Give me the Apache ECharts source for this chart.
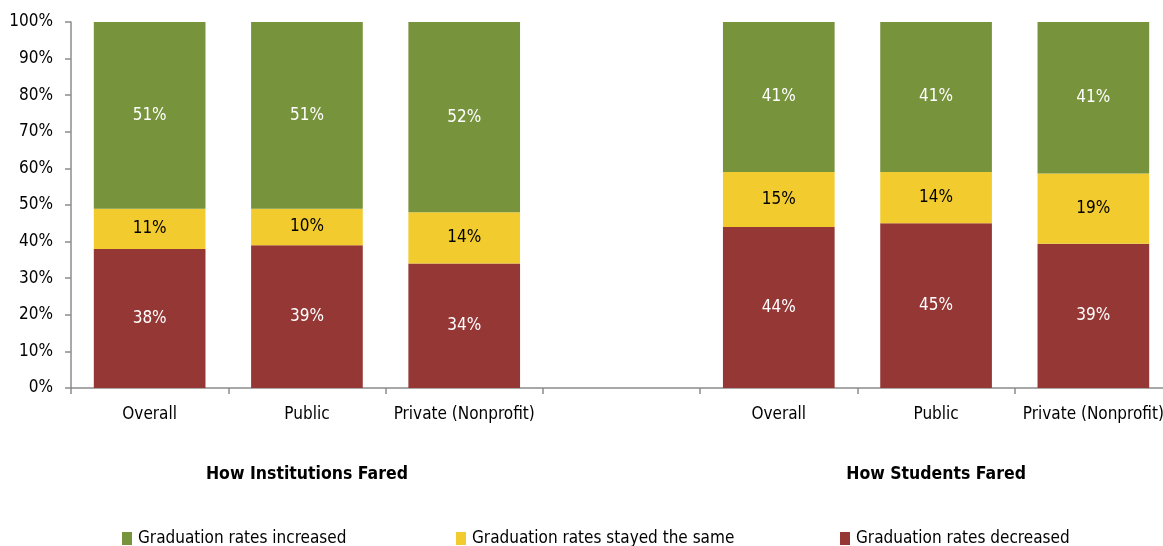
<!DOCTYPE html>
<html>
<head>
<meta charset="utf-8">
<script src="https://cdn.jsdelivr.net/npm/echarts@6/dist/echarts.min.js"></script>
<style>
  html, body { margin: 0; padding: 0; background: #fff; }
  #chart { width: 1163px; height: 546px; }
</style>
</head>
<body>
<div id="chart"></div>
<script>
// categories (empty slot in the middle separates the two groups)
const categories = ['Overall', 'Public', 'Private (Nonprofit)', '', 'Overall', 'Public', 'Private (Nonprofit)'];
const groupLabels = ['', 'How Institutions Fared', '', '', '', 'How Students Fared', ''];

// percent of each bar
const decreased = [38, 39, 34, null, 44, 45, 39.4];
const same      = [11, 10, 14, null, 15, 14, 19.2];
const increased = [51, 51, 52, null, 41, 41, 41.4];

const yTicks = [0, 10, 20, 30, 40, 50, 60, 70, 80, 90, 100];

const FONT = "'Liberation Sans Narrow', 'DejaVu Sans Condensed', 'Arial Narrow', sans-serif";
const GREEN = '#77933c';
const YELLOW = '#f2cc2f';
const RED = '#953735';
const AXIS = '#8c8c8c';

function labelCfg(color) {
    return {
        show: true,
        position: 'inside',
        color: color,
        fontFamily: FONT,
        fontSize: 17,
        formatter: p => Math.round(p.value) + '%'
    };
}

function barSeries(name, data, color, textColor) {
    return {
        name: name,
        type: 'bar',
        stack: 'total',
        data: data,
        barCategoryGap: '29%',
        itemStyle: { color: color },
        label: labelCfg(textColor),
        emphasis: { disabled: true }
    };
}

const legendItems = [
    { name: 'Graduation rates increased', left: 122 },
    { name: 'Graduation rates stayed the same', left: 456 },
    { name: 'Graduation rates decreased', left: 840 }
];

const chart = echarts.init(document.getElementById('chart'));
chart.setOption({
    animation: false,
    textStyle: { fontFamily: FONT },
    grid: { left: 71, top: 22, width: 1101, height: 366, outerBoundsMode: 'none', containLabel: false },
    legend: legendItems.map(l => ({
        data: [l.name],
        left: l.left,
        top: 530,
        padding: 0,
        itemWidth: 10,
        itemHeight: 13,
        itemGap: 5,
        icon: 'rect',
        selectedMode: false,
        textStyle: { fontFamily: FONT, fontSize: 17, color: '#000', padding: [0, 0, 0, 1] }
    })),
    xAxis: [
        {
            type: 'category',
            data: categories,
            axisLine: { lineStyle: { color: AXIS, width: 1.5 } },
            axisTick: { show: true, length: 6, lineStyle: { color: AXIS, width: 1.5 } },
            axisLabel: { color: '#000', fontSize: 17, fontFamily: FONT, margin: 18, interval: 0 }
        },
        {
            type: 'category',
            data: groupLabels,
            position: 'bottom',
            axisLine: { show: false },
            axisTick: { show: false },
            axisLabel: { color: '#000', fontSize: 17.5, fontWeight: 'bold', fontFamily: FONT, margin: 77, interval: 0 }
        }
    ],
    yAxis: {
        type: 'value',
        min: yTicks[0],
        max: yTicks[yTicks.length - 1],
        interval: 10,
        axisLine: { show: true, lineStyle: { color: AXIS, width: 1.5 } },
        axisTick: { show: true, length: 6, lineStyle: { color: AXIS, width: 1.5 } },
        splitLine: { show: false },
        axisLabel: { color: '#000', fontSize: 17, fontFamily: FONT, margin: 18, formatter: '{value}%' }
    },
    series: [
        barSeries('Graduation rates decreased', decreased, RED, '#fff'),
        barSeries('Graduation rates stayed the same', same, YELLOW, '#000'),
        barSeries('Graduation rates increased', increased, GREEN, '#fff')
    ]
});
</script>
</body>
</html>
